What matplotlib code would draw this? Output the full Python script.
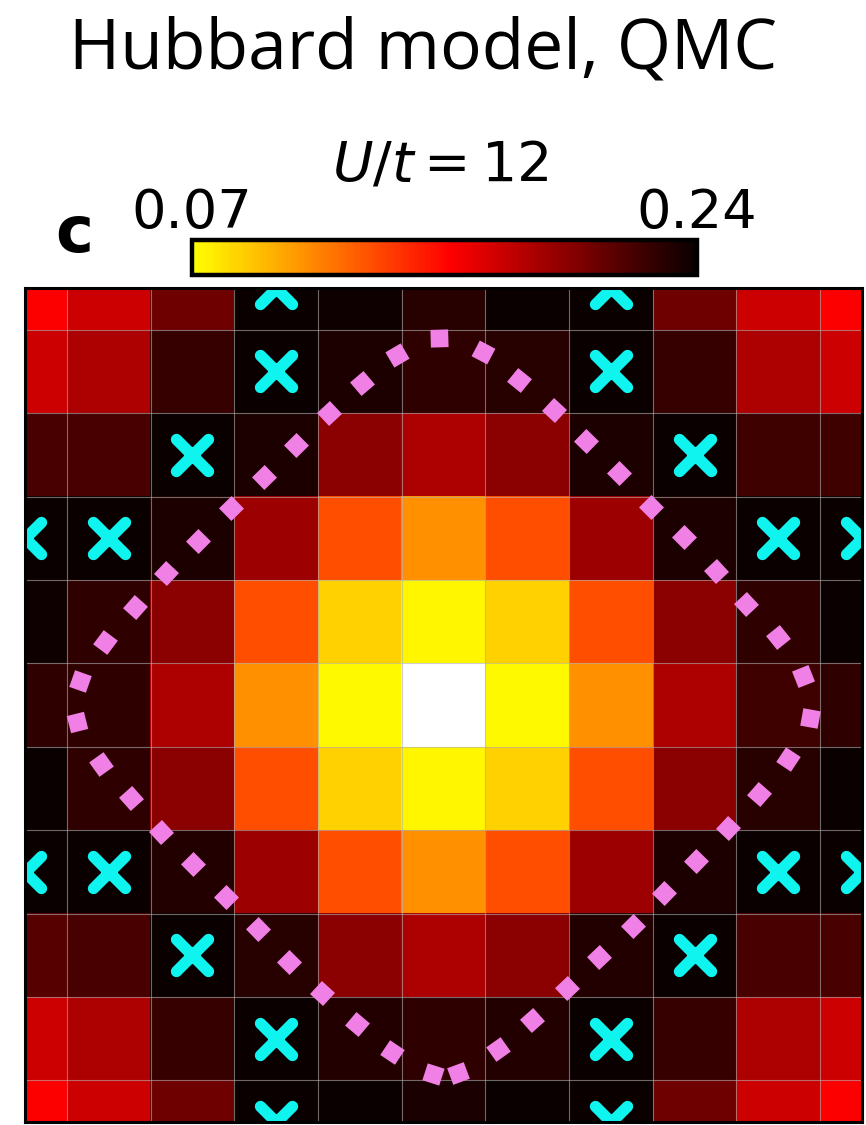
import numpy as np
import matplotlib
matplotlib.use('Agg')
import matplotlib.pyplot as plt
from matplotlib.colors import ListedColormap, Normalize
from matplotlib.markers import MarkerStyle

# ── Data: QMC correlation map (11x11, periodic, centre at (5, 5)) ─────
values = np.array([
    [0.158, 0.173, 0.206, 0.240, 0.238, 0.229, 0.240, 0.240, 0.206, 0.173, 0.158],
    [0.174, 0.184, 0.224, 0.240, 0.233, 0.227, 0.229, 0.240, 0.224, 0.184, 0.174],
    [0.218, 0.218, 0.240, 0.233, 0.196, 0.184, 0.196, 0.233, 0.240, 0.222, 0.222],
    [0.240, 0.240, 0.233, 0.189, 0.130, 0.108, 0.130, 0.189, 0.233, 0.240, 0.240],
    [0.238, 0.227, 0.196, 0.130, 0.086, 0.073, 0.086, 0.130, 0.196, 0.227, 0.239],
    [0.227, 0.227, 0.184, 0.108, 0.072, 0.050, 0.072, 0.108, 0.184, 0.222, 0.227],
    [0.239, 0.227, 0.196, 0.130, 0.086, 0.073, 0.086, 0.130, 0.196, 0.229, 0.240],
    [0.240, 0.240, 0.231, 0.189, 0.130, 0.108, 0.130, 0.189, 0.233, 0.240, 0.240],
    [0.213, 0.218, 0.240, 0.229, 0.196, 0.184, 0.196, 0.231, 0.240, 0.218, 0.218],
    [0.174, 0.184, 0.224, 0.240, 0.231, 0.227, 0.231, 0.240, 0.224, 0.184, 0.174],
    [0.158, 0.173, 0.206, 0.240, 0.239, 0.234, 0.240, 0.240, 0.206, 0.173, 0.158],
])
vmin, vmax = 0.07, 0.24

# cyan crosses (nodes)
node_x = [3, 7, 3, 7, 2, 8, 0, 1, 9, 10, 0, 1, 9, 10, 2, 8, 3, 7, 3, 7]
node_y = [0, 0, 1, 1, 2, 2, 3, 3, 3, 3, 7, 7, 7, 7, 8, 8, 9, 9, 10, 10]

# pink contour points, clockwise from the top
fs_x = [4.95, 5.47, 5.90, 6.32, 6.70, 7.10, 7.48, 7.87, 8.25, 8.61, 9.00, 9.30, 9.38,
        9.12, 8.77, 8.40, 8.02, 7.64, 7.26, 6.86, 6.48, 6.06, 5.65, 5.17,
        4.87, 4.39, 3.97, 3.55, 3.16, 2.78, 2.40, 2.01, 1.63, 1.27, 0.91, 0.62,
        0.66, 0.96, 1.32, 1.69, 2.07, 2.46, 2.85, 3.24, 3.63, 4.03, 4.45]
fs_y = [0.60, 0.77, 1.10, 1.46, 1.84, 2.22, 2.62, 2.99, 3.39, 3.79, 4.19, 4.65, 5.15,
        5.65, 6.07, 6.47, 6.87, 7.25, 7.65, 8.02, 8.39, 8.78, 9.13, 9.41,
        9.42, 9.16, 8.82, 8.45, 8.08, 7.68, 7.30, 6.91, 6.52, 6.11, 5.71, 5.20,
        4.71, 4.24, 3.83, 3.42, 3.03, 2.64, 2.27, 1.88, 1.50, 1.14, 0.80]

# ── Colormap: reversed 'hot' (yellow -> black), white below range ─────
cmap = ListedColormap(plt.cm.hot(np.linspace(0.746, 0.0, 256)))
cmap.set_under('white')
norm = Normalize(vmin=vmin, vmax=vmax)

W, H = 866, 1125
fig = plt.figure(figsize=(W / 100, H / 100), dpi=100)
fig.patch.set_facecolor('white')

ax = fig.add_axes([25 / W, 3 / H, 837 / W, 834 / H])
n = values.shape[0]
im = ax.imshow(values, cmap=cmap, norm=norm, interpolation='nearest',
               extent=(-0.5, n - 0.5, n - 0.5, -0.5), zorder=1)
ax.set_xlim(0, n - 1)
ax.set_ylim(n - 1, 0)
ax.set_aspect('auto')

# thin cell grid
ax.set_xticks([])
ax.set_yticks([])
ax.set_xticks(np.arange(0.5, n - 1, 1.0), minor=True)
ax.set_yticks(np.arange(0.5, n - 1, 1.0), minor=True)
ax.tick_params(which='both', length=0, labelbottom=False, labelleft=False)
ax.grid(which='minor', color='#b0b0b0', lw=0.8, alpha=0.6, zorder=2)
for sp in ax.spines.values():
    sp.set_linewidth(2.2)
    sp.set_zorder(5)

ax.plot(node_x, node_y, ls='none', marker=MarkerStyle('x', capstyle='round'),
        ms=23, mew=8.2, color='#10f4f0', zorder=3)

# squares aligned with the contour tangent
fx = np.array(fs_x)
fy = np.array(fs_y)
dx = np.roll(fx, -1) - np.roll(fx, 1)
dy = np.roll(fy, -1) - np.roll(fy, 1)
ang = np.degrees(np.arctan2(-dy, dx))
for x, y, a in zip(fx, fy, ang):
    ax.plot(x, y, ls='none', marker=(4, 0, 45 + a), ms=18, color='#f080e6',
            mec='none', zorder=4)

# ── Colorbar ──────────────────────────────────────────────────────────
cax = fig.add_axes([192 / W, 1 - 275 / H, 505 / W, 35 / H])
cb = fig.colorbar(im, cax=cax, orientation='horizontal', extend='neither')
cb.set_ticks([vmin, vmax])
cb.set_ticklabels(['0.07', '0.24'])
cax.xaxis.set_ticks_position('top')
cax.tick_params(length=0, pad=1, labelsize=39)
cb.outline.set_linewidth(3.2)

# ── Text ─────────────────────────────────────────────────────────────
fig.text(0.488, 1 - 68 / H, 'Hubbard model, QMC', ha='center', va='baseline',
         fontsize=50, family='Open Sans')
fig.text(0.508, 1 - 180 / H, r'$U/t = 12$', ha='center', va='baseline',
         fontsize=40)
fig.text(55 / W, 1 - 252 / H, 'c', ha='left', va='baseline',
         fontsize=46, fontweight='bold')

fig.savefig('out.png', dpi=100, facecolor='white')
